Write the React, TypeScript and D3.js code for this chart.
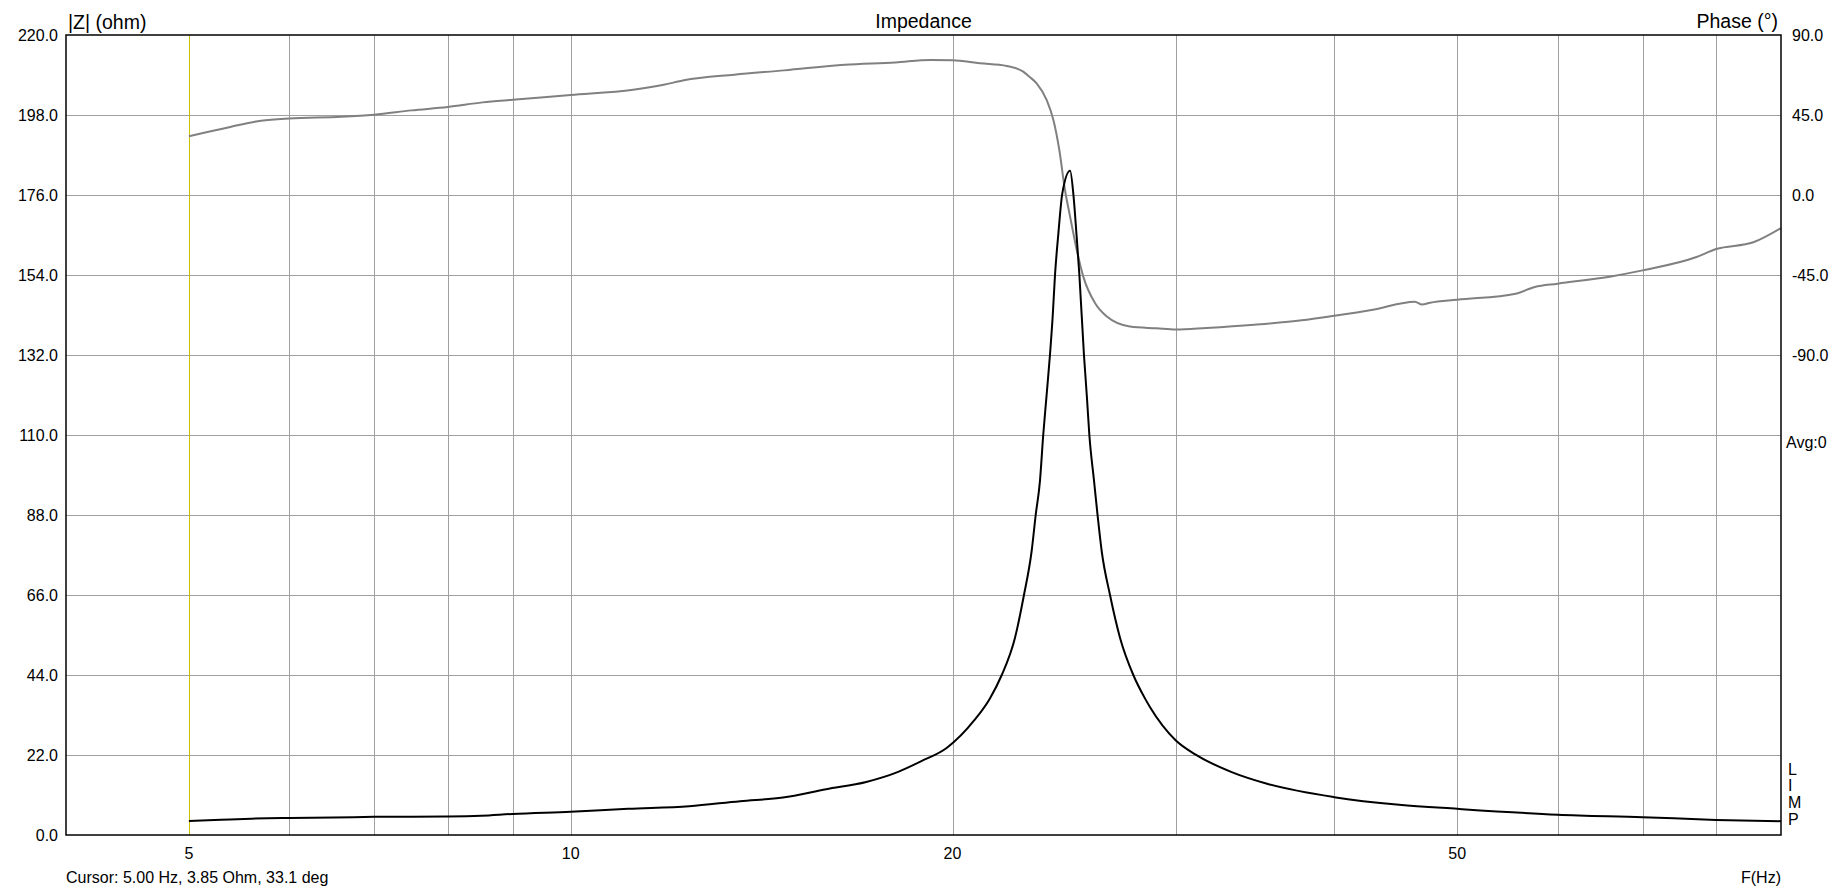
import React from "react";
import * as d3 from "d3";

// ---- data ----
const impFreq = [5, 5.3, 5.6, 6, 6.5, 7, 7.5, 8, 8.5, 9, 10, 11.1, 12.4, 13.6, 14.7, 15.9, 17.1, 18.1, 18.9, 19.8, 20.8, 21.4, 21.87, 22.4, 22.77, 23.09, 23.26, 23.44, 23.58, 23.73, 23.87, 23.99, 24.09, 24.24, 24.41, 24.76, 24.91, 25.05, 25.18, 25.39, 25.52, 25.64, 25.86, 26.03, 26.22, 26.62, 27.11, 27.77, 28.37, 28.62, 30, 31.1, 33.2, 35.4, 40, 45, 50, 60, 70, 80, 90];
const impOhm = [3.85, 4.2, 4.5, 4.7, 4.8, 5.0, 5.05, 5.1, 5.3, 5.8, 6.4, 7.2, 7.9, 9.3, 10.3, 12.6, 14.6, 17.3, 20.3, 24.0, 31.5, 37.5, 44, 54.2, 66, 78.1, 88, 97.3, 110, 121.3, 132, 142.8, 154, 165.6, 176.4, 182.7, 176, 165, 154, 132, 121, 110, 97.3, 87.7, 78.1, 66, 54.2, 44, 37.5, 35.2, 26, 22.1, 17.3, 14.1, 10.4, 8.3, 7.2, 5.6, 4.9, 4.15, 3.8];

const phFreq = [5, 5.39, 5.7, 6, 6.59, 7, 7.49, 8, 8.52, 9, 10, 11.2, 11.84, 12.28, 13.46, 14.74, 16.45, 18.03, 19.22, 20, 21.02, 22.07, 22.74, 23.0, 23.3, 23.73, 24.02, 24.28, 24.53, 24.76, 25.06, 25.36, 25.91, 26.47, 27.6, 28.97, 30, 31.71, 34.58, 37.7, 40, 42.9, 46.3, 46.9, 47.6, 50, 55.6, 57.56, 60, 66.1, 70, 77.2, 80, 85.6, 90];
const phDeg = [33.1, 38.3, 41.8, 43.1, 44.0, 45.2, 47.6, 49.5, 52.1, 53.6, 56.25, 59.2, 62.0, 64.5, 67.7, 70.1, 73.3, 74.6, 76.0, 75.8, 74.1, 72.6, 69.4, 66.5, 62.8, 53.4, 42.2, 25.3, 2.8, -12.2, -30.9, -45.9, -60.9, -68.4, -74.0, -75.0, -75.7, -74.8, -73.0, -70.5, -67.9, -64.5, -60.0, -61.6, -60.6, -58.9, -55.5, -51.75, -49.9, -45.8, -42.4, -34.9, -30.4, -26.6, -18.6];

const leftTicks = [0, 22, 44, 66, 88, 110, 132, 154, 176, 198, 220];
const rightTicks = [90, 45, 0, -45, -90];
const freqGrid = [5, 6, 7, 8, 9, 10, 20, 30, 40, 50, 60, 70, 80];
const freqLabels = [5, 10, 20, 50];
const cursorFreq = 5;

// ---- layout ----
const W = 1833, H = 892;
const L = 66, R = 1781, T = 35, B = 835;
const FONT = "Arial, 'Liberation Sans', sans-serif";

export default function App() {
  const x = d3.scaleLog().domain([4, 90]).range([L, R]);
  const yL = d3.scaleLinear().domain([0, 220]).range([B, T]);
  const yR = d3.scaleLinear().domain([-360, 90]).range([B, T]);

  const impData = impFreq.map((f, i) => [f, impOhm[i]] as [number, number]);
  const phData = phFreq.map((f, i) => [f, phDeg[i]] as [number, number]);

  const impLine = d3.line<[number, number]>().x(d => x(d[0])).y(d => yL(d[1])).curve(d3.curveMonotoneX);
  const phLine = d3.line<[number, number]>().x(d => x(d[0])).y(d => yR(d[1])).curve(d3.curveMonotoneX);

  return (
    <svg width={W} height={H} style={{ position: "absolute", left: 0, top: 0, background: "#fff" }} fontFamily={FONT}>
      <rect x={0} y={0} width={W} height={H} fill="#fff" />
      {/* grid */}
      {leftTicks.slice(1, -1).map(v => (
        <line key={"h" + v} x1={L} x2={R} y1={Math.round(yL(v)) + 0.5} y2={Math.round(yL(v)) + 0.5} stroke="#a0a0a0" strokeWidth={1} />
      ))}
      {freqGrid.map(f => (
        <line key={"v" + f} x1={Math.round(x(f)) + 0.5} x2={Math.round(x(f)) + 0.5} y1={T} y2={B} stroke="#a0a0a0" strokeWidth={1} />
      ))}
      {/* cursor */}
      <line x1={Math.round(x(cursorFreq)) + 0.5} x2={Math.round(x(cursorFreq)) + 0.5} y1={T} y2={B} stroke="#c8c000" strokeWidth={1} />
      {/* curves */}
      <path d={phLine(phData) || ""} fill="none" stroke="#808080" strokeWidth={2} strokeLinejoin="round" />
      <path d={impLine(impData) || ""} fill="none" stroke="#000" strokeWidth={2} strokeLinejoin="miter" />
      {/* frame */}
      <rect x={L} y={T} width={R - L} height={B - T} fill="none" stroke="#000" strokeWidth={1.5} />
      {/* left ticks */}
      {leftTicks.map(v => (
        <text key={"lt" + v} x={58} y={yL(v)} dy="0.35em" textAnchor="end" fontSize={16} fill="#000">{v.toFixed(1)}</text>
      ))}
      {/* right ticks */}
      {rightTicks.map(v => (
        <text key={"rt" + v} x={1792} y={yR(v)} dy="0.35em" textAnchor="start" fontSize={16} fill="#000">{v.toFixed(1)}</text>
      ))}
      <text x={1786} y={447.5} fontSize={16} fill="#000">Avg:0</text>
      {["L", "I", "M", "P"].map((c, i) => (
        <text key={c} x={1788} y={774.5 + i * 16.8} fontSize={16} fill="#000">{c}</text>
      ))}
      {/* bottom ticks */}
      {freqLabels.map(f => (
        <text key={"bt" + f} x={x(f)} y={858.5} textAnchor="middle" fontSize={16} fill="#000">{f}</text>
      ))}
      {/* titles */}
      <text x={68} y={29} fontSize={19.5} fill="#000">|Z| (ohm)</text>
      <text x={(L + R) / 2} y={27.5} textAnchor="middle" fontSize={19.5} fill="#000">Impedance</text>
      <text x={1778} y={27.5} textAnchor="end" fontSize={19.5} fill="#000">Phase (°)</text>
      <text x={66} y={883} fontSize={16} fill="#000">Cursor: 5.00 Hz, 3.85 Ohm, 33.1 deg</text>
      <text x={1781} y={883} textAnchor="end" fontSize={16} fill="#000">F(Hz)</text>
    </svg>
  );
}
